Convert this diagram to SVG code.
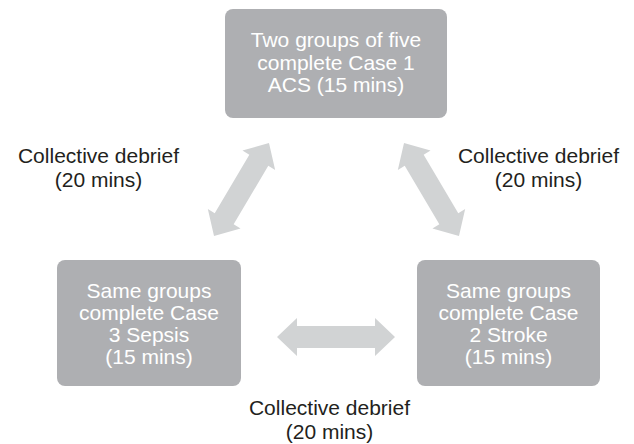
<svg xmlns="http://www.w3.org/2000/svg" width="634" height="444" viewBox="0 0 634 444">
<style>
.box{fill:#aeafb2}
.bt{font-family:"Liberation Sans",Arial,sans-serif;font-size:21px;fill:#ffffff;text-anchor:middle}
.lt{font-family:"Liberation Sans",Arial,sans-serif;font-size:21px;fill:#231f20;text-anchor:middle}
.arr{fill:#d1d3d4}
</style>
<rect width="634" height="444" fill="#ffffff"/>
<g id="connectors">
<path class="arr" transform="translate(241.5,189.5) rotate(-59.4)" d="M-54,0 L-34,-19 L-34,-11 L34,-11 L34,-19 L54,0 L34,19 L34,11 L-34,11 L-34,19 Z"/>
<path class="arr" transform="translate(431.5,189.5) rotate(59.4)" d="M-54,0 L-34,-19 L-34,-11 L34,-11 L34,-19 L54,0 L34,19 L34,11 L-34,11 L-34,19 Z"/>
<path class="arr" transform="translate(336,337)" d="M-59,0 L-39,-19 L-39,-11 L39,-11 L39,-19 L59,0 L39,19 L39,11 L-39,11 L-39,19 Z"/>
</g>
<g id="node-top">
<rect class="box" x="225" y="9" width="222" height="109" rx="8"/>
<text class="bt" x="336" y="47">Two groups of five</text>
<text class="bt" x="336" y="69.5">complete Case 1</text>
<text class="bt" x="336" y="92">ACS (15 mins)</text>
</g>
<g id="node-left">
<rect class="box" x="57" y="260" width="184" height="126" rx="8"/>
<text class="bt" x="149" y="298">Same groups</text>
<text class="bt" x="149" y="320">complete Case</text>
<text class="bt" x="149" y="342">3 Sepsis</text>
<text class="bt" x="149" y="363.5">(15 mins)</text>
</g>
<g id="node-right">
<rect class="box" x="417" y="260" width="183" height="126" rx="8"/>
<text class="bt" x="508.5" y="298">Same groups</text>
<text class="bt" x="508.5" y="320">complete Case</text>
<text class="bt" x="508.5" y="342">2 Stroke</text>
<text class="bt" x="508.5" y="363.5">(15 mins)</text>
</g>
<g id="label-left">
<text class="lt" x="98.5" y="163">Collective debrief</text>
<text class="lt" x="98.5" y="187">(20 mins)</text>
</g>
<g id="label-right">
<text class="lt" x="538.5" y="163">Collective debrief</text>
<text class="lt" x="538.5" y="187">(20 mins)</text>
</g>
<g id="label-bottom">
<text class="lt" x="329.5" y="415">Collective debrief</text>
<text class="lt" x="329.5" y="439">(20 mins)</text>
</g>
</svg>
